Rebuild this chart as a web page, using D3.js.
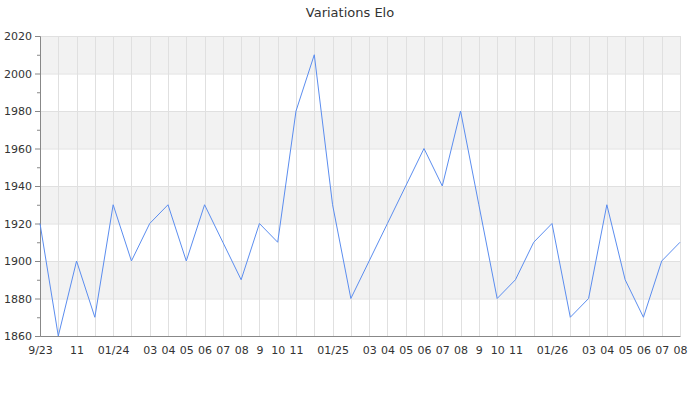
<!DOCTYPE html>
<meta charset="utf-8">
<script src="https://d3js.org/d3.v7.min.js"></script>
<style>
  body { margin: 0; background: #fff; }
  text { font-family: "DejaVu Sans", sans-serif; fill: #333; }
</style>
<div id="chart"></div>
<script>
  // Elo per month, 09/23 -> 08/26
  var elo = [1920, 1860, 1900, 1870, 1930, 1900, 1920, 1930, 1900, 1930,
             1910, 1890, 1920, 1910, 1980, 2010, 1930, 1880, 1900, 1920,
             1940, 1960, 1940, 1980, 1930, 1880, 1890, 1910, 1920, 1870,
             1880, 1930, 1890, 1870, 1900, 1910];
  var xLabels = ["9/23", "", "11", "", "01/24", "", "03", "04", "05", "06",
                 "07", "08", "9", "10", "11", "", "01/25", "", "03", "04",
                 "05", "06", "07", "08", "9", "10", "11", "", "01/26", "",
                 "03", "04", "05", "06", "07", "08"];
  var yTicks = [1860, 1880, 1900, 1920, 1940, 1960, 1980, 2000, 2020];
  var bands = [[1880, 1900], [1920, 1940], [1960, 1980], [2000, 2020]];

  var W = 700, H = 400;
  var margin = {top: 36, right: 20, bottom: 64, left: 40};

  var svg = d3.select("#chart").append("svg")
      .attr("width", W).attr("height", H);

  var x = d3.scaleLinear().domain([0, elo.length - 1])
      .range([margin.left, W - margin.right]);
  var y = d3.scaleLinear().domain([1860, 2020])
      .range([H - margin.bottom, margin.top]);

  svg.append("text")
      .attr("x", W / 2).attr("y", 17)
      .attr("text-anchor", "middle")
      .style("font-size", "13px")
      .text("Variations Elo");

  // grey bands
  svg.append("g").selectAll("rect").data(bands).join("rect")
      .attr("x", margin.left)
      .attr("width", W - margin.right - margin.left)
      .attr("y", d => y(d[1]))
      .attr("height", d => y(d[0]) - y(d[1]))
      .attr("fill", "#f2f2f2");

  // horizontal grid
  svg.append("g").selectAll("line").data(yTicks).join("line")
      .attr("x1", margin.left).attr("x2", W - margin.right)
      .attr("y1", d => y(d) + 0.5).attr("y2", d => y(d) + 0.5)
      .attr("stroke", "#e0e0e0");

  // vertical grid, one per month
  svg.append("g").selectAll("line").data(d3.range(elo.length)).join("line")
      .attr("x1", d => Math.round(x(d)) + 0.5).attr("x2", d => Math.round(x(d)) + 0.5)
      .attr("y1", margin.top).attr("y2", H - margin.bottom)
      .attr("stroke", "#e0e0e0");

  // y axis
  var yAxis = svg.append("g")
      .attr("transform", "translate(" + margin.left + ",0)")
      .call(d3.axisLeft(y).tickValues(yTicks).tickFormat(d3.format("d"))
            .tickSize(5).tickPadding(3));
  yAxis.select(".domain").attr("stroke", "#888");
  yAxis.selectAll(".tick line").attr("stroke", "#888");
  yAxis.selectAll("text").style("font-size", "11px").attr("fill", "#333");
  svg.append("g")
      .attr("transform", "translate(" + margin.left + ",0)")
      .call(d3.axisLeft(y).tickValues(d3.range(1870, 2020, 20)).tickSize(3).tickFormat(""))
      .call(g => g.select(".domain").remove())
      .selectAll("line").attr("stroke", "#888");

  // x axis
  var xAxis = svg.append("g")
      .attr("transform", "translate(0," + (H - margin.bottom) + ")")
      .call(d3.axisBottom(x).tickValues(d3.range(elo.length))
            .tickFormat(i => xLabels[i]).tickSize(0).tickPadding(10));
  xAxis.select(".domain").attr("stroke", "#888");
  xAxis.selectAll("text").style("font-size", "11px").attr("fill", "#333");

  // line
  svg.append("path")
      .datum(elo)
      .attr("fill", "none")
      .attr("stroke", "#5b8def")
      .attr("stroke-width", 1)
      .attr("d", d3.line().x((d, i) => x(i)).y(d => y(d)));
</script>
